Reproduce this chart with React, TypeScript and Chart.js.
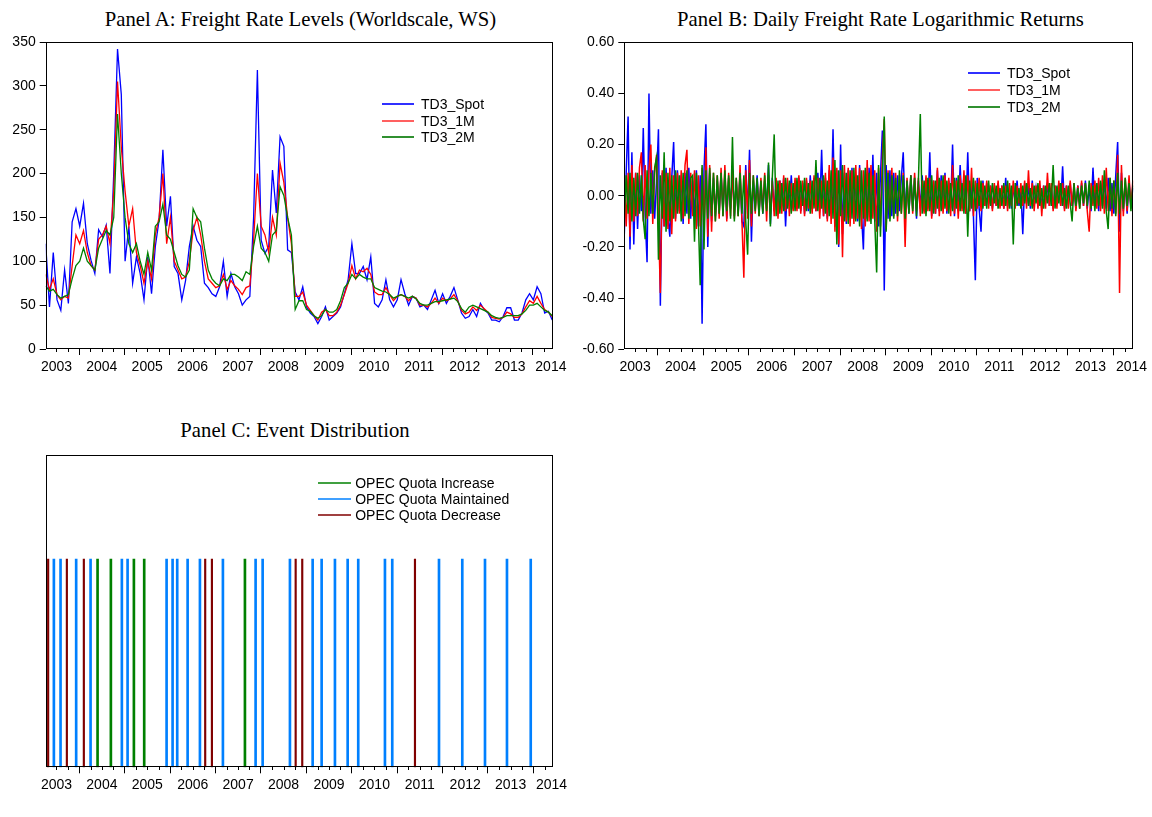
import React, { useEffect, useRef } from "react";
import { Chart, registerables } from "chart.js";

Chart.register(...registerables);

// ---------- axis ranges and tick labels ----------
const X_MIN = 2003.263;
const X_MAX = 2014.44;
const LEVEL_STEP = 1 / 12; // monthly readings (Panel A)
const RETURN_STEP = 1 / 24; // half-monthly readings (Panel B)

const yearLabels = ["2003", "2004", "2005", "2006", "2007", "2008", "2009", "2010", "2011", "2012", "2013", "2014"];
const yearLabelAt = [2003.5, 2004.5, 2005.5, 2006.5, 2007.5, 2008.5, 2009.5, 2010.5, 2011.5, 2012.5, 2013.5, 2014.4];
const yearStarts = [2004, 2005, 2006, 2007, 2008, 2009, 2010, 2011, 2012, 2013, 2014];

const levelTicks = [0, 50, 100, 150, 200, 250, 300, 350];
const returnTicks = [-0.6, -0.4, -0.2, 0, 0.2, 0.4, 0.6];

const seriesNames = ["TD3_Spot", "TD3_1M", "TD3_2M"];
const seriesColors = ["#0000FF", "#FF0000", "#008000"];
const legendSampleColors = ["#3030FF", "#FF6060", "#309030"];
const eventNames = ["OPEC Quota Increase", "OPEC Quota Maintained", "OPEC Quota Decrease"];
const eventColors = ["#008000", "#0080FF", "#800000"];
const eventSampleColors = ["#40A040", "#40A0FF", "#A04040"];

// ---------- Panel A: freight rate levels (WS) ----------
const spotLevels = [
  120, 48, 110, 56, 44, 90, 52, 145, 160, 140,
  166, 120, 101, 86, 136, 128, 141, 86, 200, 342,
  290, 100, 140, 75, 105, 86, 56, 105, 63, 117,
  147, 227, 140, 174, 94, 86, 56, 78, 117, 140,
  124, 117, 75, 70, 63, 60, 71, 100, 60, 86,
  71, 63, 50, 56, 60, 150, 318, 124, 109, 117,
  204, 155, 242, 231, 113, 110, 65, 56, 71, 48,
  41, 37, 29, 37, 48, 33, 37, 41, 48, 63,
  79, 120, 86, 86, 94, 79, 105, 52, 48, 56,
  79, 56, 48, 56, 79, 63, 50, 60, 58, 48,
  50, 45, 56, 67, 52, 63, 52, 60, 70, 56,
  41, 35, 37, 45, 37, 52, 45, 41, 33, 33,
  31, 37, 47, 47, 33, 33, 41, 56, 63, 56,
  71, 63, 41, 43, 33,
];
const m1Levels = [
  85, 68, 80, 62, 56, 60, 58, 95, 130, 120,
  135, 110, 95, 90, 125, 130, 140, 120, 180, 305,
  230, 180, 140, 160, 110, 95, 75, 100, 80, 130,
  150, 200, 120, 150, 100, 90, 80, 82, 100, 135,
  150, 130, 100, 80, 75, 70, 72, 85, 68, 78,
  72, 68, 62, 70, 72, 124, 200, 140, 130, 110,
  150, 130, 212, 190, 150, 120, 60, 60, 65, 50,
  44, 38, 33, 42, 45, 38, 38, 42, 50, 62,
  75, 95, 80, 90, 88, 92, 85, 65, 62, 62,
  70, 62, 55, 60, 62, 60, 55, 60, 58, 50,
  50, 48, 52, 58, 52, 58, 55, 57, 62, 55,
  44, 40, 42, 48, 44, 50, 46, 42, 36, 35,
  34, 36, 42, 40, 36, 36, 40, 48, 55, 52,
  60, 52, 45, 42, 37,
];
const m2Levels = [
  72, 66, 68, 62, 58, 60, 62, 80, 95, 100,
  115, 100, 95, 90, 115, 125, 135, 130, 150, 268,
  200, 150, 120, 110, 120, 100, 85, 110, 90, 140,
  145, 165, 130, 125, 110, 95, 85, 82, 90, 160,
  150, 145, 115, 90, 80, 75, 72, 80, 78, 85,
  85, 82, 78, 88, 85, 117, 140, 115, 110, 100,
  130, 135, 185, 175, 150, 130, 45, 55, 55, 45,
  43, 38, 35, 38, 45, 42, 42, 45, 55, 70,
  75, 85, 80, 85, 82, 80, 80, 70, 68, 66,
  65, 62, 58, 60, 62, 60, 58, 60, 57, 52,
  50, 50, 52, 54, 54, 55, 56, 57, 58, 54,
  46, 42, 48, 50, 48, 46, 44, 42, 38, 36,
  35, 36, 38, 38, 38, 38, 40, 44, 50, 50,
  52, 48, 44, 42, 38,
];

// ---------- Panel B: daily log returns (read half-monthly) ----------
const spotReturns = [
  -0.15, 0.09, 0.31, -0.21, 0.17, -0.19, 0.09, -0.13, 0.08, -0.06,
  0.265, -0.08, -0.26, 0.40, -0.07, 0.10, -0.09, 0.06, 0.26, -0.43,
  0.09, -0.12, 0.11, -0.08, -0.16, 0.07, 0.21, -0.09, 0.10, -0.06,
  0.08, -0.11, 0.09, -0.07, 0.11, -0.09, 0.06, -0.08, 0.10, -0.12,
  0.08, -0.50, 0.10, 0.28, -0.20, 0.09, -0.10, 0.07, -0.08, 0.06,
  -0.07, 0.09, -0.06, 0.08, -0.09, 0.07, -0.05, 0.10, -0.08, 0.06,
  -0.07, 0.09, -0.10, -0.12, 0.12, -0.07, 0.18, -0.18, 0.06, -0.05,
  0.08, -0.06, 0.05, -0.07, 0.06, -0.05, 0.12, -0.11, 0.07, -0.06,
  0.05, -0.07, 0.06, -0.04, 0.07, -0.12, 0.05, -0.04, 0.08, -0.05,
  0.06, -0.05, 0.07, -0.06, 0.05, -0.07, 0.06, -0.06, 0.08, -0.05,
  0.07, -0.06, 0.09, -0.05, 0.18, -0.08, 0.07, -0.09, 0.10, -0.07,
  0.26, -0.12, 0.10, -0.20, 0.20, -0.15, 0.09, -0.11, 0.10, -0.08,
  0.11, -0.09, 0.08, -0.10, 0.12, -0.07, -0.21, 0.10, -0.09, 0.11,
  -0.08, 0.16, -0.10, 0.09, -0.12, 0.08, 0.255, -0.37, 0.12, -0.09,
  0.10, -0.08, 0.09, -0.07, 0.08, -0.06, 0.07, 0.17, -0.08, 0.06,
  -0.07, 0.08, -0.05, 0.07, -0.09, 0.06, -0.05, 0.08, -0.06, 0.07,
  -0.05, 0.17, -0.08, 0.06, -0.07, 0.10, -0.06, 0.08, -0.05, 0.09,
  -0.07, 0.06, -0.05, 0.20, -0.08, 0.07, -0.06, 0.12, -0.05, 0.08,
  -0.07, 0.17, -0.06, 0.05, -0.08, -0.33, 0.07, -0.05, -0.14, 0.06,
  -0.04, 0.05, -0.03, 0.04, -0.05, 0.03, -0.04, 0.05, -0.03, 0.04,
  -0.05, 0.07, -0.04, 0.03, -0.05, 0.04, -0.03, 0.06, -0.04, 0.03,
  -0.15, 0.05, -0.03, 0.04, -0.05, 0.06, -0.04, 0.03, -0.03, 0.04,
  -0.05, 0.04, -0.03, 0.05, -0.04, 0.03, -0.05, 0.04, -0.03, 0.05,
  -0.04, 0.115, -0.05, 0.04, -0.03, 0.05, -0.04, 0.03, -0.05, 0.04,
  -0.03, 0.05, -0.04, 0.06, -0.05, 0.04, -0.06, 0.11, -0.04, 0.05,
  -0.06, 0.05, -0.04, 0.06, -0.05, 0.07, -0.06, 0.05, -0.07, 0.08,
  0.21, -0.14, 0.09, -0.06, 0.05, -0.07, 0.06, -0.04, 0.03,
];
const m1Returns = [
  0.08, -0.12, 0.09, -0.16, 0.12, -0.10, 0.09, -0.08, 0.11, 0.17,
  -0.10, 0.12, -0.09, 0.10, 0.20, -0.11, 0.09, 0.16, -0.10, -0.38,
  0.10, -0.12, 0.09, -0.13, 0.11, -0.15, 0.08, -0.10, 0.09, -0.07,
  0.10, -0.09, 0.12, 0.18, -0.11, 0.09, -0.08, 0.10, -0.13, 0.08,
  -0.12, 0.11, -0.15, 0.19, -0.16, 0.12, -0.14, 0.09, -0.10, 0.08,
  -0.09, 0.11, -0.08, 0.12, -0.10, 0.09, -0.08, 0.10, -0.09, 0.07,
  -0.08, 0.12, -0.10, -0.32, 0.10, -0.09, 0.14, -0.12, 0.08, -0.07,
  0.06, -0.08, 0.07, -0.06, 0.09, -0.10, 0.08, -0.07, 0.06, -0.08,
  0.07, -0.09, 0.06, -0.07, 0.08, -0.06, 0.07, -0.08, 0.05, -0.06,
  0.07, -0.06, 0.08, -0.07, 0.06, -0.08, 0.07, -0.05, 0.06, -0.07,
  0.08, -0.06, 0.07, -0.09, 0.06, -0.08, 0.09, -0.10, 0.12, -0.11,
  0.15, -0.14, 0.11, -0.19, 0.10, -0.24, 0.12, -0.10, 0.11, -0.12,
  0.10, -0.11, 0.12, -0.09, 0.11, -0.13, 0.10, -0.12, 0.14, -0.10,
  0.12, -0.09, 0.10, -0.14, 0.11, -0.12, 0.15, 0.30, -0.13, 0.10,
  -0.09, 0.11, -0.08, 0.09, -0.10, 0.08, -0.07, 0.09, -0.20, 0.07,
  -0.06, 0.08, -0.07, 0.09, -0.06, 0.07, -0.08, 0.06, -0.07, 0.08,
  -0.06, 0.07, -0.09, 0.06, -0.07, 0.11, -0.08, 0.06, -0.07, 0.08,
  -0.06, 0.07, -0.08, 0.12, -0.07, 0.06, -0.09, 0.08, -0.06, 0.10,
  -0.07, 0.08, -0.06, 0.11, -0.08, 0.06, -0.05, 0.07, -0.06, 0.05,
  -0.04, 0.06, -0.05, 0.04, -0.06, 0.05, -0.04, 0.06, -0.05, 0.04,
  -0.05, 0.04, -0.06, 0.05, -0.04, 0.06, -0.05, 0.04, -0.03, 0.05,
  -0.04, 0.06, -0.05, 0.10, -0.04, 0.05, -0.06, 0.04, -0.05, 0.06,
  -0.08, 0.04, -0.05, 0.09, -0.04, 0.05, -0.06, 0.04, -0.05, 0.06,
  -0.04, 0.05, -0.06, 0.04, -0.05, 0.06, -0.04, 0.05, -0.06, 0.04,
  -0.05, 0.06, -0.04, 0.05, -0.06, -0.14, 0.05, -0.04, 0.06, -0.05,
  0.07, -0.06, 0.08, -0.07, 0.11, -0.06, 0.07, -0.08, 0.06, -0.07,
  0.16, -0.38, 0.12, -0.08, 0.07, -0.06, 0.08, -0.05, 0.06,
];
const m2Returns = [
  -0.09, 0.08, -0.07, 0.09, -0.10, 0.07, -0.08, 0.09, -0.07, 0.08,
  -0.09, -0.17, 0.10, -0.08, 0.09, -0.07, 0.11, 0.15, -0.25, 0.08,
  -0.09, 0.17, -0.14, 0.09, -0.10, 0.08, -0.09, 0.10, -0.07, 0.08,
  -0.10, 0.09, -0.08, 0.10, -0.09, 0.07, 0.08, -0.18, 0.09, -0.08,
  -0.35, 0.12, -0.21, 0.10, -0.09, 0.11, -0.08, 0.09, -0.10, 0.08,
  -0.07, 0.09, -0.08, 0.10, -0.06, 0.08, -0.09, 0.23, -0.10, 0.07,
  -0.08, 0.09, -0.07, 0.08, -0.10, -0.23, 0.09, -0.07, 0.08, -0.06,
  0.07, -0.08, 0.06, -0.07, 0.08, -0.06, 0.13, -0.12, 0.07, 0.24,
  -0.08, 0.06, -0.07, 0.05, -0.06, 0.07, -0.05, 0.06, -0.07, 0.05,
  -0.06, 0.07, -0.05, 0.06, -0.04, 0.07, -0.06, 0.05, -0.07, 0.06,
  -0.05, 0.14, -0.06, 0.07, -0.05, 0.08, -0.07, 0.06, -0.08, 0.10,
  -0.09, 0.14, -0.19, 0.10, -0.08, 0.12, -0.10, 0.09, -0.11, 0.10,
  -0.09, 0.11, -0.10, 0.08, -0.12, 0.10, -0.09, 0.11, -0.10, 0.09,
  -0.11, 0.08, -0.10, -0.30, 0.12, -0.16, 0.09, 0.31, -0.14, 0.09,
  -0.10, 0.08, -0.09, 0.07, -0.08, 0.10, -0.07, 0.08, -0.09, 0.06,
  -0.07, 0.08, -0.06, 0.07, -0.08, 0.06, 0.32, -0.07, 0.06, -0.08,
  0.07, -0.06, 0.08, -0.07, 0.06, -0.05, 0.07, -0.06, 0.08, -0.05,
  0.06, -0.07, 0.05, -0.06, 0.07, -0.05, 0.08, -0.06, 0.05, -0.07,
  0.08, -0.16, 0.06, -0.05, 0.07, -0.06, 0.05, -0.04, 0.06, -0.05,
  0.04, -0.05, 0.06, -0.04, 0.05, -0.03, 0.04, -0.05, 0.03, -0.04,
  0.05, -0.04, 0.06, -0.05, 0.04, -0.19, 0.05, -0.04, 0.03, -0.05,
  0.04, -0.03, 0.05, -0.04, 0.03, -0.05, 0.04, -0.03, 0.05, -0.04,
  0.03, -0.05, 0.04, -0.03, 0.05, -0.04, 0.12, -0.05, 0.04, -0.03,
  0.05, -0.04, 0.03, -0.05, 0.04, -0.03, -0.10, 0.05, -0.04, 0.03,
  -0.05, 0.04, -0.03, 0.05, -0.04, 0.06, -0.05, 0.04, -0.06, 0.05,
  -0.04, 0.06, -0.05, 0.10, -0.06, -0.13, 0.07, -0.05, 0.06, -0.08,
  0.09, -0.07, 0.06, -0.05, 0.07, -0.04, 0.05, -0.06, 0.04,
];

// ---------- Panel C: OPEC meeting dates (decimal years) ----------
const quotaIncrease = [2004.405, 2004.698, 2005.205, 2005.432, 2007.65];
const quotaMaintained = [
  2003.443, 2003.59, 2003.934, 2004.251, 2004.94, 2005.066, 2005.925, 2006.057,
  2006.159, 2006.388, 2006.659, 2007.165, 2007.885, 2008.04, 2008.641, 2009.141,
  2009.339, 2009.632, 2009.912, 2010.145, 2010.733, 2010.894, 2011.923, 2012.436,
  2012.936, 2013.42, 2013.943,
];
const quotaDecrease = [2003.317, 2003.729, 2004.103, 2006.775, 2006.923, 2008.767, 2008.912, 2011.394];
const eventMarker = 1;

// ---------- helpers ----------
const TICK_FONT = { family: '"Liberation Sans", Arial, sans-serif', size: 14 };
const quarterMarks: number[] = [];
for (let y = 2003; y <= 2014; y++) {
  for (const q of [0.25, 0.5, 0.75]) {
    const v = y + q;
    if (v > X_MIN && v < X_MAX) quarterMarks.push(v);
  }
}

const framePlugin = {
  id: "frame",
  afterDraw(chart: any) {
    const { ctx, chartArea: a } = chart;
    const l = Math.round(a.left) + 0.5;
    const t = Math.round(a.top) + 0.5;
    const r = Math.round(a.right) - 0.5;
    const b = Math.round(a.bottom) - 0.5;
    ctx.save();
    ctx.strokeStyle = "#000";
    ctx.lineWidth = 1;
    ctx.strokeRect(l, t, r - l, b - t);
    // quarterly minor ticks on the date axis
    const s = chart.scales.x;
    ctx.beginPath();
    for (const v of quarterMarks) {
      const px = Math.round(s.getPixelForValue(v)) + 0.5;
      ctx.moveTo(px, b);
      ctx.lineTo(px, b + 3.5);
    }
    ctx.stroke();
    ctx.restore();
  },
};

function dateAxis(axisHeight: number) {
  const tickVals = [...yearStarts, ...yearLabelAt].sort((a, b) => a - b);
  return {
    type: "linear",
    position: "bottom",
    min: X_MIN,
    max: X_MAX,
    offset: false,
    afterBuildTicks: (scale: any) => {
      scale.ticks = tickVals.map((v) => ({ value: v }));
    },
    afterFit: (scale: any) => {
      scale.height = axisHeight;
      scale.paddingLeft = 0;
      scale.paddingRight = 0;
    },
    ticks: {
      autoSkip: false,
      maxRotation: 0,
      minRotation: 0,
      padding: 3.5,
      color: "#000",
      font: TICK_FONT,
      callback: (value: number) => {
        const i = yearLabelAt.indexOf(value);
        return i >= 0 ? yearLabels[i] : "";
      },
    },
    grid: {
      offset: false,
      drawOnChartArea: false,
      drawTicks: true,
      tickLength: 6,
      tickWidth: 1,
      tickColor: (ctx: any) => (ctx.tick && yearStarts.includes(ctx.tick.value) ? "#000" : "rgba(0,0,0,0)"),
    },
    border: { display: false },
  };
}

function valueAxis(ticks: number[], width: number, fmt: (v: number) => string) {
  return {
    type: "linear",
    position: "left",
    min: ticks[0],
    max: ticks[ticks.length - 1],
    afterBuildTicks: (scale: any) => {
      scale.ticks = ticks.map((v) => ({ value: v }));
    },
    afterFit: (scale: any) => {
      scale.width = width;
    },
    ticks: { color: "#000", font: TICK_FONT, padding: 4, callback: (v: number) => fmt(v) },
    grid: { drawOnChartArea: false, drawTicks: true, tickLength: 6, tickColor: "#000" },
    border: { display: false },
  };
}

const baseOptions = {
  animation: false,
  responsive: false,
  devicePixelRatio: 1,
  events: [],
  plugins: { legend: { display: false }, tooltip: { enabled: false }, title: { display: false } },
};

function toPoints(values: number[], step: number) {
  return values.map((v, i) => ({ x: X_MIN + i * step, y: v }));
}

function lineDatasets(series: number[][], step: number, width: number) {
  return series.map((vals, i) => ({
    label: seriesNames[i],
    data: toPoints(vals, step),
    borderColor: seriesColors[i],
    borderWidth: width,
    pointRadius: 0,
    tension: 0,
    fill: false,
    order: 2 - i,
  }));
}

function ChartCanvas(props: { config: any; left: number; top: number; width: number; height: number }) {
  const ref = useRef<HTMLCanvasElement>(null);
  useEffect(() => {
    const chart = new Chart(ref.current as HTMLCanvasElement, props.config);
    return () => chart.destroy();
  }, []);
  return (
    <canvas
      ref={ref}
      width={props.width}
      height={props.height}
      style={{ position: "absolute", left: props.left, top: props.top, width: props.width, height: props.height }}
    />
  );
}

function Legend(props: {
  left: number;
  top: number;
  rowGap: number;
  names: string[];
  colors: string[];
  sample: number;
  gap: number;
}) {
  return (
    <div style={{ position: "absolute", left: props.left, top: props.top }}>
      {props.names.map((n, i) => (
        <div key={n} style={{ position: "absolute", left: 0, top: i * props.rowGap, height: 16, whiteSpace: "nowrap" }}>
          <div
            style={{
              position: "absolute",
              left: 0,
              top: 7,
              width: props.sample,
              height: 2,
              backgroundColor: props.colors[i],
            }}
          />
          <span
            style={{
              position: "absolute",
              left: props.sample + props.gap,
              top: 0,
              fontFamily: '"Liberation Sans", Arial, sans-serif',
              fontSize: 14,
              lineHeight: "16px",
              color: "#000",
            }}
          >
            {n}
          </span>
        </div>
      ))}
    </div>
  );
}

const titleStyle = (left: number, top: number): React.CSSProperties => ({
  position: "absolute",
  left,
  top,
  width: 600,
  textAlign: "center",
  fontFamily: '"Liberation Serif", "Times New Roman", serif',
  fontSize: 20.7,
  lineHeight: "24px",
  color: "#000",
  whiteSpace: "nowrap",
});

export default function App() {
  const configA = {
    type: "line",
    data: { datasets: lineDatasets([spotLevels, m1Levels, m2Levels], LEVEL_STEP, 1.3) },
    options: {
      ...baseOptions,
      layout: { padding: { left: 0, top: 42, right: 17.3, bottom: 6 } },
      scales: { x: dateAxis(25), y: valueAxis(levelTicks, 45.7, (v) => String(v)) },
    },
    plugins: [framePlugin],
  };

  const configB = {
    type: "line",
    data: { datasets: lineDatasets([spotReturns, m1Returns, m2Returns], RETURN_STEP, 1.5) },
    options: {
      ...baseOptions,
      layout: { padding: { left: 0, top: 42.3, right: 18.7, bottom: 5.7 } },
      scales: { x: dateAxis(25), y: valueAxis(returnTicks, 44.3, (v) => v.toFixed(2)) },
    },
    plugins: [framePlugin],
  };

  const eventSets = [quotaIncrease, quotaMaintained, quotaDecrease];
  const configC = {
    type: "bar",
    data: {
      datasets: eventSets.map((dates, i) => ({
        label: eventNames[i],
        data: dates.map((d) => ({ x: d, y: eventMarker })),
        backgroundColor: eventColors[i],
        borderWidth: 0,
        barThickness: i === 2 ? 1.5 : 2,
        grouped: false,
      })),
    },
    options: {
      ...baseOptions,
      layout: { padding: { left: 45.7, top: 55, right: 16.7, bottom: 24.7 } },
      scales: {
        x: dateAxis(25),
        y: { type: "linear", display: false, min: 0, max: 1.5 },
      },
    },
    plugins: [framePlugin],
  };

  return (
    <div style={{ position: "absolute", left: 0, top: 0, width: 1152, height: 817, background: "#fff" }}>
      <div style={titleStyle(0.5, 7)}>Panel A: Freight Rate Levels (Worldscale, WS)</div>
      <div style={titleStyle(580.5, 7)}>Panel B: Daily Freight Rate Logarithmic Returns</div>
      <div style={titleStyle(-5, 418)}>Panel C: Event Distribution</div>

      <ChartCanvas config={configA} left={0} top={0} width={570} height={380} />
      <ChartCanvas config={configB} left={580} top={0} width={572} height={380} />
      <ChartCanvas config={configC} left={0} top={400} width={570} height={417} />

      <Legend left={382} top={96} rowGap={16.65} names={seriesNames} colors={legendSampleColors} sample={32} gap={7} />
      <Legend left={968} top={65.3} rowGap={17} names={seriesNames} colors={legendSampleColors} sample={32} gap={7} />
      <Legend left={318.3} top={475.3} rowGap={15.9} names={eventNames} colors={eventSampleColors} sample={32.4} gap={4.5} />
    </div>
  );
}
